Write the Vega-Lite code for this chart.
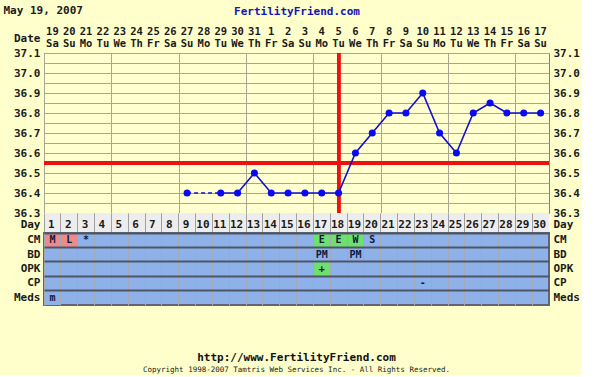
{
  "$schema": "https://vega.github.io/schema/vega-lite/v6.json",
  "background": "#FFFFCC",
  "padding": {"left": 3, "top": 4, "right": 0, "bottom": 0},
  "spacing": 0,
  "bounds": "flush",
  "config": {
    "font": "DejaVu Sans Mono",
    "view": {"stroke": null},
    "axis": {
      "labelFont": "DejaVu Sans Mono",
      "labelFontWeight": "bold",
      "labelFontSize": 11,
      "labelColor": "#1a1a1a",
      "titleFont": "DejaVu Sans Mono",
      "titleFontWeight": "bold",
      "titleFontSize": 11,
      "titleColor": "#1a1a1a",
      "domain": false,
      "ticks": false,
      "labelOverlap": false,
      "labelBound": false,
      "labelFlush": false
    },
    "text": {"font": "DejaVu Sans Mono", "fontWeight": "bold", "fontSize": 11, "color": "#1a1a1a"}
  },
  "datasets": {
    "days": [
      {"day": 1, "date": "19", "wd": "Sa"}, {"day": 2, "date": "20", "wd": "Su"},
      {"day": 3, "date": "21", "wd": "Mo"}, {"day": 4, "date": "22", "wd": "Tu"},
      {"day": 5, "date": "23", "wd": "We"}, {"day": 6, "date": "24", "wd": "Th"},
      {"day": 7, "date": "25", "wd": "Fr"}, {"day": 8, "date": "26", "wd": "Sa"},
      {"day": 9, "date": "27", "wd": "Su"}, {"day": 10, "date": "28", "wd": "Mo"},
      {"day": 11, "date": "29", "wd": "Tu"}, {"day": 12, "date": "30", "wd": "We"},
      {"day": 13, "date": "31", "wd": "Th"}, {"day": 14, "date": "1", "wd": "Fr"},
      {"day": 15, "date": "2", "wd": "Sa"}, {"day": 16, "date": "3", "wd": "Su"},
      {"day": 17, "date": "4", "wd": "Mo"}, {"day": 18, "date": "5", "wd": "Tu"},
      {"day": 19, "date": "6", "wd": "We"}, {"day": 20, "date": "7", "wd": "Th"},
      {"day": 21, "date": "8", "wd": "Fr"}, {"day": 22, "date": "9", "wd": "Sa"},
      {"day": 23, "date": "10", "wd": "Su"}, {"day": 24, "date": "11", "wd": "Mo"},
      {"day": 25, "date": "12", "wd": "Tu"}, {"day": 26, "date": "13", "wd": "We"},
      {"day": 27, "date": "14", "wd": "Th"}, {"day": 28, "date": "15", "wd": "Fr"},
      {"day": 29, "date": "16", "wd": "Sa"}, {"day": 30, "date": "17", "wd": "Su"}
    ],
    "temps": [
      {"day": 9, "temp": 36.4}, {"day": 11, "temp": 36.4}, {"day": 12, "temp": 36.4},
      {"day": 13, "temp": 36.5}, {"day": 14, "temp": 36.4}, {"day": 15, "temp": 36.4},
      {"day": 16, "temp": 36.4}, {"day": 17, "temp": 36.4}, {"day": 18, "temp": 36.4},
      {"day": 19, "temp": 36.6}, {"day": 20, "temp": 36.7}, {"day": 21, "temp": 36.8},
      {"day": 22, "temp": 36.8}, {"day": 23, "temp": 36.9}, {"day": 24, "temp": 36.7},
      {"day": 25, "temp": 36.6}, {"day": 26, "temp": 36.8}, {"day": 27, "temp": 36.85},
      {"day": 28, "temp": 36.8}, {"day": 29, "temp": 36.8}, {"day": 30, "temp": 36.8}
    ],
    "cells": [
      {"day": 1, "row": "CM", "label": "M", "hl": "pink"},
      {"day": 2, "row": "CM", "label": "L", "hl": "pink"},
      {"day": 3, "row": "CM", "label": "*", "hl": "none"},
      {"day": 17, "row": "CM", "label": "E", "hl": "green"},
      {"day": 18, "row": "CM", "label": "E", "hl": "green"},
      {"day": 19, "row": "CM", "label": "W", "hl": "green"},
      {"day": 20, "row": "CM", "label": "S", "hl": "none"},
      {"day": 17, "row": "BD", "label": "PM", "hl": "none"},
      {"day": 19, "row": "BD", "label": "PM", "hl": "none"},
      {"day": 17, "row": "OPK", "label": "+", "hl": "green"},
      {"day": 23, "row": "CP", "label": "-", "hl": "none"},
      {"day": 1, "row": "Meds", "label": "m", "hl": "none"}
    ]
  },
  "vconcat": [
    {
      "width": 505,
      "height": 30,
      "data": {"name": "days"},
      "encoding": {
        "x": {
          "field": "day", "type": "ordinal",
          "axis": {"orient": "top", "labels": false, "title": "FertilityFriend.com", "titleColor": "#1414B4", "titlePadding": 7}
        },
        "y": {
          "datum": "Date", "type": "nominal",
          "axis": {"title": "May 19, 2007", "titleAngle": 0, "titleAlign": "left", "titleBaseline": "middle", "titleX": -41, "titleY": -13, "labelPadding": 4}
        }
      },
      "layer": [
        {"mark": {"type": "text", "dy": -6, "fontSize": 10.5}, "encoding": {"text": {"field": "date"}}},
        {"mark": {"type": "text", "dy": 6, "fontSize": 10.5}, "encoding": {"text": {"field": "wd"}}}
      ]
    },
    {
      "width": 505,
      "height": 160,
      "data": {"name": "temps"},
      "view": {"stroke": "#808080", "fill": "#FFFFD0"},
      "layer": [
        {
          "mark": {"type": "rule", "color": "#EE1111", "strokeWidth": 3},
          "encoding": {"y": {"datum": 36.55, "type": "quantitative", "axis": null}}
        },
        {
          "mark": {"type": "rule", "color": "#EE1111", "strokeWidth": 3},
          "encoding": {"x": {"datum": 18, "type": "quantitative"}}
        },
        {
          "transform": [{"filter": "datum.day <= 11"}],
          "mark": {"type": "line", "color": "#1010D0", "strokeWidth": 1.6, "strokeDash": [4, 3]},
          "encoding": {
            "x": {"field": "day", "type": "quantitative"},
            "y": {"field": "temp", "type": "quantitative", "axis": null}
          }
        },
        {
          "transform": [{"filter": "datum.day >= 11"}],
          "mark": {"type": "line", "color": "#1010D0", "strokeWidth": 1.6},
          "encoding": {
            "x": {
              "field": "day", "type": "quantitative",
              "scale": {"domain": [0.5, 30.5], "nice": false, "zero": false},
              "axis": {
                "title": null, "labels": false, "grid": true, "gridColor": "#A8A890", "gridOpacity": 1,
                "values": [0.5, 1.5, 2.5, 3.5, 4.5, 5.5, 6.5, 7.5, 8.5, 9.5, 10.5, 11.5, 12.5, 13.5, 14.5, 15.5, 16.5, 17.5, 18.5, 19.5, 20.5, 21.5, 22.5, 23.5, 24.5, 25.5, 26.5, 27.5, 28.5, 29.5, 30.5]
              }
            },
            "y": {
              "field": "temp", "type": "quantitative",
              "scale": {"domain": [36.3, 37.1], "nice": false, "zero": false},
              "axis": {
                "orient": "left", "title": null, "grid": true, "gridColor": "#A8A890", "gridOpacity": 1, "labelPadding": 4,
                "values": [36.3, 36.35, 36.4, 36.45, 36.5, 36.55, 36.6, 36.65, 36.7, 36.75, 36.8, 36.85, 36.9, 36.95, 37.0, 37.05, 37.1],
                "labelExpr": "round(datum.value * 100) % 10 == 0 ? format(datum.value, '.1f') : ''"
              }
            }
          }
        },
        {
          "mark": {"type": "point", "filled": true, "color": "#0A0AF0", "size": 50, "opacity": 1},
          "encoding": {
            "x": {"field": "day", "type": "quantitative"},
            "y": {
              "field": "temp", "type": "quantitative",
              "axis": {
                "orient": "right", "title": null, "grid": false, "labelPadding": 4,
                "values": [36.3, 36.4, 36.5, 36.6, 36.7, 36.8, 36.9, 37.0, 37.1],
                "format": ".1f"
              }
            }
          }
        }
      ],
      "resolve": {"axis": {"y": "independent"}}
    },
    {
      "width": 505,
      "height": 20,
      "data": {"name": "days"},
      "encoding": {
        "x": {
          "field": "day", "type": "ordinal",
          "axis": {"title": null, "labels": false, "grid": true, "bandPosition": 0, "gridColor": "#A0A0A0", "gridOpacity": 1, "zindex": 1}
        }
      },
      "layer": [
        {
          "mark": {"type": "rect", "fill": "#EDEDED"},
          "encoding": {"y": {"datum": "Day", "type": "nominal", "axis": {"orient": "right", "title": null, "labelPadding": 4, "labelOffset": 2}}}
        },
        {
          "mark": {"type": "text", "dx": -1, "dy": 2},
          "encoding": {
            "text": {"field": "day"},
            "y": {"datum": "Day", "type": "nominal", "axis": {"orient": "left", "title": null, "labelPadding": 4, "labelOffset": 2}}
          }
        }
      ],
      "resolve": {"axis": {"y": "independent"}}
    },
    {
      "width": 505,
      "height": 72,
      "data": {"name": "cells"},
      "view": {"fill": "#8EB1EA", "stroke": "#5F6672", "strokeWidth": 2},
      "encoding": {
        "x": {
          "field": "day", "type": "ordinal",
          "scale": {"domain": [1, 2, 3, 4, 5, 6, 7, 8, 9, 10, 11, 12, 13, 14, 15, 16, 17, 18, 19, 20, 21, 22, 23, 24, 25, 26, 27, 28, 29, 30]},
          "axis": {"title": null, "labels": false, "grid": true, "bandPosition": 0, "gridColor": "#A4AAB4", "gridOpacity": 1, "zindex": 1}
        }
      },
      "layer": [
        {
          "mark": {"type": "rect"},
          "encoding": {
            "color": {
              "field": "hl", "type": "nominal",
              "scale": {"domain": ["pink", "green", "none"], "range": ["#EE8A8A", "#6EE06E", "#8EB1EA"]},
              "legend": null
            },
            "y": {
              "field": "row", "type": "nominal",
              "scale": {"domain": ["CM", "BD", "OPK", "CP", "Meds"]},
              "axis": {"orient": "left", "title": null, "labelPadding": 4, "grid": true, "bandPosition": 0, "gridColor": "#4E5666", "gridWidth": 2, "gridOpacity": 1, "zindex": 1}
            }
          }
        },
        {
          "mark": {"type": "text", "fontSize": 10, "color": "#10183A"},
          "encoding": {
            "text": {"field": "label"},
            "y": {
              "field": "row", "type": "nominal",
              "axis": {"orient": "right", "title": null, "labelPadding": 4}
            }
          }
        }
      ],
      "resolve": {"axis": {"y": "independent"}},
      "title": {
        "text": "http://www.FertilityFriend.com",
        "subtitle": "Copyright 1998-2007 Tamtris Web Services Inc. - All Rights Reserved.",
        "orient": "bottom",
        "anchor": "middle",
        "offset": 47,
        "font": "DejaVu Sans Mono",
        "fontSize": 11,
        "fontWeight": "bold",
        "color": "#111111",
        "subtitleFont": "DejaVu Sans Mono",
        "subtitleFontSize": 7.5,
        "subtitleColor": "#222222",
        "subtitlePadding": 3
      }
    }
  ]
}
